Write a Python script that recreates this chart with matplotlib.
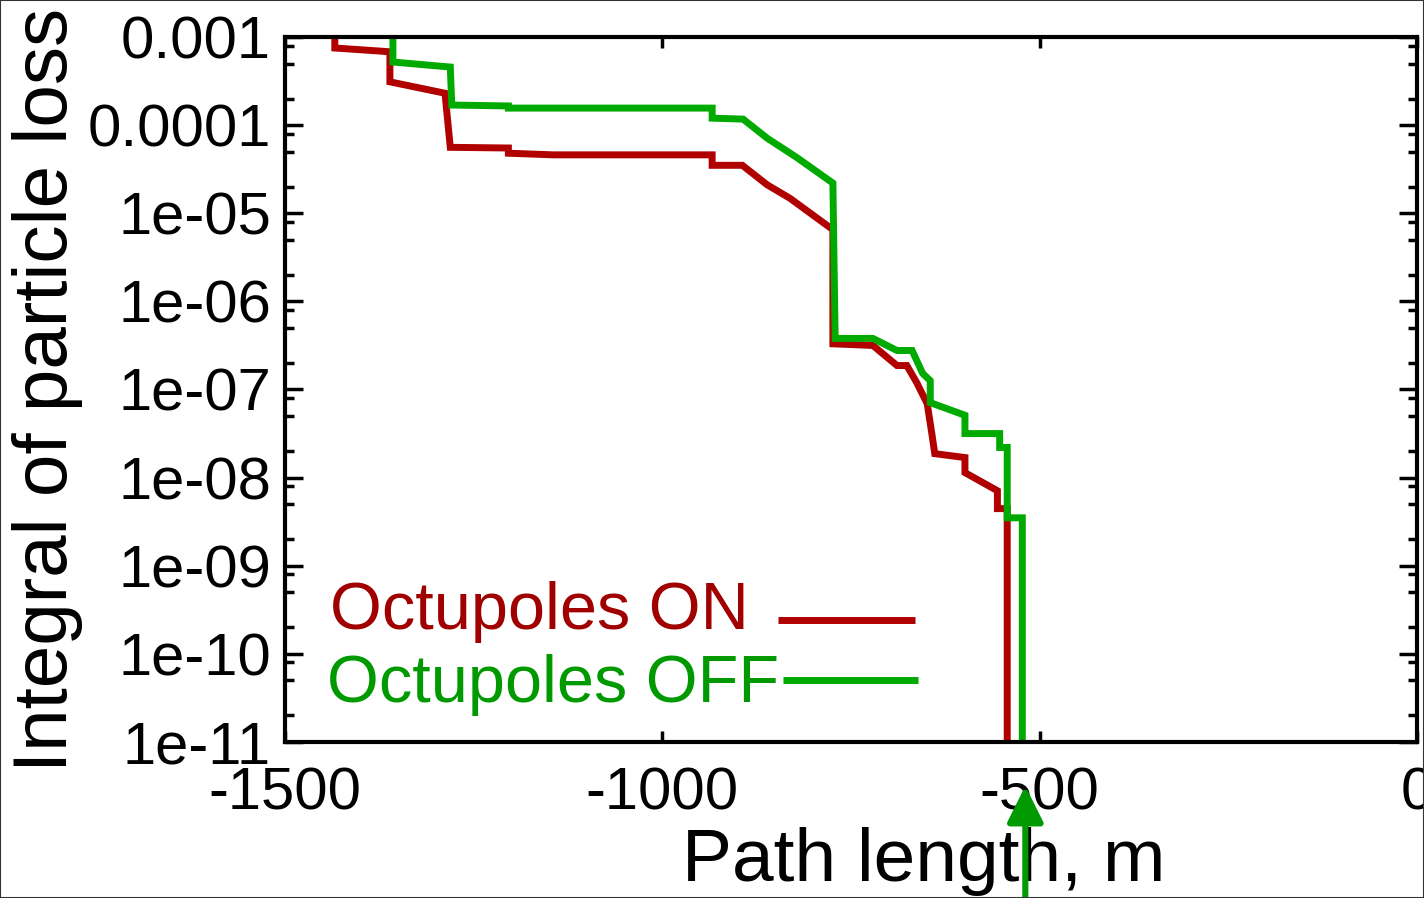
import matplotlib
matplotlib.use("Agg")
import matplotlib.pyplot as plt
from matplotlib.ticker import LogLocator, NullFormatter, FixedLocator
from matplotlib.patches import Rectangle

# ---- data ----
on_x = [-1434, -1434, -1361, -1361, -1288, -1281, -1204, -1204, -1145, -934, -934,
        -894, -861, -831, -778, -774, -774, -721, -689, -676, -663, -649, -643, -639,
        -599, -599, -556, -556, -543, -543]
on_y = [1.3e-3, 7.5e-4, 6.8e-4, 3.1e-4, 2.3e-4, 5.6e-5, 5.5e-5, 4.8e-5, 4.6e-5, 4.6e-5, 3.5e-5,
        3.5e-5, 2.1e-5, 1.48e-5, 6.9e-6, 6.9e-6, 3.3e-7, 3.16e-7, 1.87e-7, 1.87e-7, 1.2e-7, 6.9e-8, 3.2e-8, 1.87e-8,
        1.69e-8, 1.14e-8, 7.1e-9, 4.45e-9, 4.45e-9, 1e-12]

off_x = [-1357, -1357, -1281, -1279, -1204, -1204, -934, -934, -893, -861, -822, -774,
         -771, -721, -689, -669, -655, -645, -645, -599, -599, -553, -553, -543, -543,
         -523, -523]
off_y = [1.3e-3, 5.2e-4, 4.56e-4, 1.69e-4, 1.65e-4, 1.56e-4, 1.56e-4, 1.2e-4, 1.17e-4, 7.1e-5, 4.3e-5, 2.2e-5,
         3.8e-7, 3.8e-7, 2.77e-7, 2.77e-7, 1.52e-7, 1.26e-7, 7.1e-8, 5.1e-8, 3.16e-8, 3.16e-8, 2.2e-8, 2.2e-8, 3.5e-9,
         3.5e-9, 1e-12]

x_ticks = [-1500, -1000, -500, 0]
y_ticks = [1e-11, 1e-10, 1e-9, 1e-8, 1e-7, 1e-6, 1e-5, 1e-4, 1e-3]
y_tick_labels = ["1e-11", "1e-10", "1e-09", "1e-08", "1e-07", "1e-06", "1e-05", "0.0001", "0.001"]
labels = ["Octupoles ON", "Octupoles OFF"]

RED = "#B00000"
GREEN = "#00AA00"
RED_T = "#A00000"
GREEN_T = "#009A00"
LW = 5.0

plt.rcParams['font.family'] = ['Liberation Sans', 'DejaVu Sans']

fig = plt.figure(figsize=(14.24, 8.98), dpi=100)
ax = fig.add_axes([285/1424, 1-742/898, (1417-285)/1424, (742-37)/898])

ax.plot(on_x, on_y, color=RED, lw=LW, solid_joinstyle='miter', solid_capstyle='butt')
ax.plot(off_x, off_y, color=GREEN, lw=LW, solid_joinstyle='miter', solid_capstyle='butt')

ax.set_yscale('log')
ax.set_xlim(-1500, 0)
ax.set_ylim(1e-11, 1e-3)

ax.set_xticks(x_ticks)
ax.set_xticklabels([str(v) for v in x_ticks])
ax.yaxis.set_major_locator(FixedLocator(y_ticks))
ax.set_yticklabels(y_tick_labels)
ax.yaxis.set_minor_locator(LogLocator(base=10, subs=[2, 5, 8], numticks=50))
ax.yaxis.set_minor_formatter(NullFormatter())

ax.tick_params(axis='both', which='both', direction='in', top=True, right=True, labelsize=43)
ax.tick_params(axis='y', which='major', length=13, width=2.5, pad=10)
ax.tick_params(axis='y', which='minor', length=6.5, width=2.5)
ax.tick_params(axis='x', which='major', length=8, width=2.5, pad=18)
for s in ax.spines.values():
    s.set_linewidth(3)

ax.set_xlabel("Path length, m", fontsize=54, labelpad=0)
ax.xaxis.set_label_coords((924 - 285) / 1132, (742 - 862) / 705)
ax.xaxis.label.set_va('center')
ax.set_ylabel("Integral of particle loss", fontsize=55)
ax.yaxis.set_label_coords((48 - 285) / 1132, (742 - 390) / 705)
ax.yaxis.label.set_va('center')

# legend (text + sample line), drawn in axes fraction
def ax_frac(px, py):
    return ((px - 285) / (1417 - 285), (742 - py) / (742 - 37))

tx, ty = ax_frac(330, 612)
ax.text(tx, ty, labels[0], transform=ax.transAxes, color=RED_T, fontsize=48,
        ha='left', va='center')
x1, y1 = ax_frac(778, 620)
x2, _ = ax_frac(915, 620)
ax.plot([x1, x2], [y1, y1], transform=ax.transAxes, color=RED, lw=LW, solid_capstyle='butt')

tx, ty = ax_frac(327, 685)
ax.text(tx, ty, labels[1], transform=ax.transAxes, color=GREEN_T, fontsize=48,
        ha='left', va='center')
x1, y1 = ax_frac(783, 680)
x2, _ = ax_frac(918, 680)
ax.plot([x1, x2], [y1, y1], transform=ax.transAxes, color=GREEN, lw=LW, solid_capstyle='butt')

# arrow below the axis
ax.annotate('', xy=(-519, (742 - 786) / 705), xycoords=('data', 'axes fraction'),
            xytext=(-519, (742 - 905) / 705), textcoords=('data', 'axes fraction'),
            arrowprops=dict(arrowstyle='-|>,head_length=1.1,head_width=0.55',
                            mutation_scale=20, color="#009900", lw=4.4,
                            shrinkA=0, shrinkB=0),
            annotation_clip=False)

fig.patches.append(Rectangle((0, 0), 1, 1, transform=fig.transFigure, fill=False,
                             edgecolor='#333333', lw=1.5))

fig.savefig("out.png", dpi=100)
